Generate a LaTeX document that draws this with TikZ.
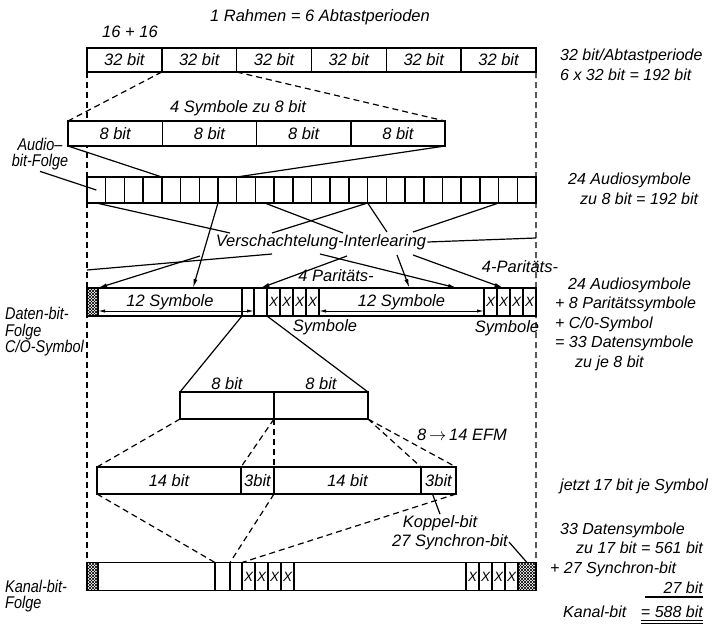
\documentclass[tikz,border=0pt]{standalone}
\usepackage{fontspec}
\setmainfont{Liberation Sans}
\newfontfamily\narrowsans[FakeStretch=0.85]{Liberation Sans}
\usetikzlibrary{arrows.meta,positioning,patterns,backgrounds}
\newcommand{\lblfont}{\fontsize{16.5}{17}\selectfont\itshape}
\newcommand{\leftfont}{\narrowsans\fontsize{17}{16.5}\selectfont\itshape}
\newcommand{\sidefont}{\fontsize{16}{19.5}\selectfont\itshape}
\newcommand{\xcellfont}{\fontsize{13.5}{13.5}\selectfont\itshape}

\begin{document}
\begin{tikzpicture}[x=1pt, y=-1pt,
    lbl/.style={font=\lblfont, inner sep=1pt},
    leftlbl/.style={font=\leftfont, inner sep=1pt, align=left, anchor=west},
    side/.style={font=\sidefont, align=left, anchor=west, inner sep=0pt},
    cell/.style={draw, line width=1.5pt, fill=white, inner sep=0pt, outer sep=0pt, anchor=west, font=\lblfont},
    row32/.style={cell, minimum width=74.83pt, minimum height=24pt},
    row8/.style={cell, minimum width=94.25pt, minimum height=25pt},
    acell/.style={cell, minimum width=18.71pt, minimum height=26pt},
    drow/.style={cell, minimum height=28pt},
    xcell/.style={drow, minimum width=13pt, font=\xcellfont},
    hatch/.style={draw, line width=1.5pt, inner sep=0pt, outer sep=0pt, anchor=west, minimum height=28pt,
      pattern=north east lines, postaction={pattern=north west lines}},
    link/.style={line width=1.2pt},
    arr/.style={link, -{Latex[length=9pt,width=4pt]}},
    dim/.style={line width=0.9pt, {Latex[length=7pt,width=3.2pt]}-{Latex[length=7pt,width=3.2pt]}},
    dashln/.style={line width=1.2pt, dash pattern=on 6pt off 4pt}
  ]
    \useasboundingbox (0,0) rectangle (717,630);

    % Rahmen aus 6 Abtastperioden
    \node[lbl] (rahmen) at (320,17) {1 Rahmen = 6 Abtastperioden};
    \node[lbl] (sixteen) at (130,32) {16 + 16};
    \foreach \i in {0,...,5}
      \node[row32] (w\i) at ({87+74.83*\i},60) {32 bit};
    \node[side] (r1) at (560,65) {32 bit/Abtastperiode\\6 x 32 bit = 192 bit};

    % 4 Symbole zu 8 bit
    \node[lbl] (vier) at (238,108) {4 Symbole zu 8 bit};
    \foreach \i in {0,...,3}
      \node[row8] (s\i) at ({68+94.25*\i},133.5) {8 bit};
    \draw[dashln] (w1.south west) -- (s0.north west);
    \draw[dashln] (w1.south east) -- (s3.north east);

    % Audio-bit-Folge
    \foreach \i in {0,...,23}
      \node[acell] (a\i) at ({87+18.71*\i},190) {};
    \draw[link] (s0.south west) -- (a4.north west);
    \draw[link] (s3.south east) -- (a7.north east);
    \node[leftlbl, align=center, anchor=center] (audio) at (40,154) {Audio–\\bit-Folge};
    \draw[link] (audio.south) -- (a0.center);
    \node[side] (r2) at (568,189) {24 Audiosymbole\\\hspace*{12pt}zu 8 bit = 192 bit};

    % Verschachtelung
    \node[lbl] (vil) at (321,242) {Verschachtelung-Interlearing};
    \coordinate (vA) at (230,233);
    \coordinate (vE) at (343,233);
    \coordinate (vF) at (272,233);
    \coordinate (vG) at (387,232);
    \coordinate (vH) at (413,232);
    \coordinate (vC) at (272,254);
    \coordinate (vD) at (200,256);
    \coordinate (vJ) at (397,255);
    \coordinate (vK) at (320,254);
    \coordinate (vL) at (347,256);
    \coordinate (vM) at (413,255);
    \coordinate (lC) at (87,270);
    \coordinate (rI) at (536,238);

    % Daten-bit-Folge
    \node[hatch, minimum width=11pt] (co) at (87,302) {};
    \node[drow, minimum width=144pt, right=0pt of co] (d1) {12 Symbole};
    \node[drow, minimum width=12pt, right=0pt of d1] (p) {};
    \node[drow, minimum width=13pt, right=0pt of p] (q) {};
    \foreach \i/\prev in {1/q,2/x1,3/x2,4/x3}
      \node[xcell, right=0pt of \prev] (x\i) {X};
    \node[drow, minimum width=165pt, right=0pt of x4] (d2) {12 Symbole};
    \foreach \i/\prev in {1/d2,2/y1,3/y2,4/y3}
      \node[xcell, right=0pt of \prev] (y\i) {X};
    \draw[dim] ([yshift=-9pt]d1.west) -- ([yshift=-9pt]q.west);
    \draw[dim] ([yshift=-9pt]d2.west) -- ([yshift=-9pt]d2.east);

    \draw[link] (a0.south) -- (vA);
    \draw[arr] (a6.south east) -- ([xshift=23pt]d1.north);
    \draw[link] (a9.south) -- (vE);
    \draw[link] (a15.south west) -- (vF);
    \draw[link] (a15.south west) -- (vG);
    \draw[link] (a21.south east) -- (vH);
    \draw[link] (vil.east) -- (rI);
    \draw[link] (lC) -- (vC);
    \draw[arr] (vD) -- (co.north east);
    \draw[arr] (vJ) -- ([xshift=8pt]d2.north);
    \draw[arr] (vK) -- ([xshift=-27pt]d2.north east);
    \draw[arr] (vL) -- (q.north);
    \draw[arr] (vM) -- (y2.north);

    \node[lbl] (par1) at (336,276) {4 Paritäts-};
    \node[lbl] (sym1) at (325,327) {Symbole};
    \node[lbl] (par2) at (520,267) {4-Paritäts-};
    \node[lbl] (sym2) at (507,328) {Symbole};
    \node[leftlbl] (daten) at (4,332) {Daten-bit-\\Folge\\C/O-Symbol};
    \node[side] (r3) at (555,324) {\hspace*{13pt}24 Audiosymbole\\+ 8 Paritätssymbole\\+ C/0-Symbol\\= 33 Datensymbole\\\hspace*{20pt}zu je 8 bit};

    % 8 bit + 8 bit
    \node[cell, minimum width=94pt, minimum height=27pt] (pr1) at (180,405.5) {};
    \node[cell, minimum width=94pt, minimum height=27pt, right=0pt of pr1] (pr2) {};
    \node[lbl, above=1pt of pr1] (b81) {8 bit};
    \node[lbl, above=1pt of pr2] (b82) {8 bit};
    \draw[link] (p.south west) -- (pr1.north west);
    \draw[link] (q.south east) -- (pr2.north east);

    % EFM
    \node[lbl] (efm) at (462,435) {8\,$\rightarrow$\,14 EFM};
    \node[cell, minimum width=144pt, minimum height=27pt] (e1) at (97,480.5) {14 bit};
    \node[cell, minimum width=33pt, minimum height=27pt, right=0pt of e1] (e2) {3bit};
    \node[cell, minimum width=147pt, minimum height=27pt, right=0pt of e2] (e3) {14 bit};
    \node[cell, minimum width=35pt, minimum height=27pt, right=0pt of e3] (e4) {3bit};
    \draw[dashln] (pr1.south west) -- (e1.north west);
    \draw[dashln] (pr1.south east) -- (e2.north west);
    \draw[dashln] (pr1.south east) -- (e3.north west);
    \draw[dashln] (pr2.south east) -- (e4.north west);
    \draw[dashln] (pr2.south east) -- (e4.north east);
    \node[side] (r4) at (560,486) {jetzt 17 bit je Symbol};

    % Kanal-bit-Folge
    \node[hatch, minimum width=11pt] (kh1) at (87,576.5) {};
    \node[drow, minimum width=117pt, right=0pt of kh1] (k1) {};
    \node[drow, minimum width=15pt, right=0pt of k1] (k2) {};
    \node[drow, minimum width=12pt, right=0pt of k2] (k3) {};
    \foreach \i/\prev in {1/k3,2/kx1,3/kx2,4/kx3}
      \node[xcell, right=0pt of \prev] (kx\i) {X};
    \node[drow, minimum width=172pt, right=0pt of kx4] (k4) {};
    \foreach \i/\prev in {1/k4,2/ky1,3/ky2,4/ky3}
      \node[xcell, right=0pt of \prev] (ky\i) {X};
    \node[hatch, minimum width=18pt, right=0pt of ky4] (kh2) {};
    \draw[dashln] (e1.south west) -- (k2.north west);
    \draw[dashln] (e2.south east) -- (k3.north west);
    \draw[dashln] (e4.south east) -- (kx1.north west);

    \node[lbl] (kop) at (440,523) {Koppel-bit};
    \draw[link] (kop.north) -- ([xshift=-6pt]e4.south);
    \node[lbl] (syn) at (450,542) {27 Synchron-bit};
    \draw[link] (syn.east) -- (kh2.north);
    \node[leftlbl] (kanal) at (4,596) {Kanal-bit-\\Folge};

    % Bilanz
    \node[side] (r5) at (550,549.5) {\hspace*{10pt}33 Datensymbole\\\hspace*{26pt}zu 17 bit = 561 bit\\+ 27 Synchron-bit};
    \node[side, anchor=east] (sum27) at (703,588) {27 bit};
    \draw[link] ([xshift=-58pt,yshift=-3pt]sum27.south east) -- ([yshift=-3pt]sum27.south east);
    \node[side] (kbit) at (563,612) {Kanal-bit};
    \node[side, anchor=east] (total) at (703,612) {= 588 bit};
    \draw[line width=0.9pt, double, double distance=2.2pt] ([yshift=-4pt]total.south west) -- ([yshift=-4pt]total.south east);

    \begin{scope}[on background layer]
      \draw[dashln] (w0.south west) -- (kh1.north west);
      \draw[dashln] (w5.south east) -- (kh2.north east);
    \end{scope}
  \end{tikzpicture}
\end{document}
